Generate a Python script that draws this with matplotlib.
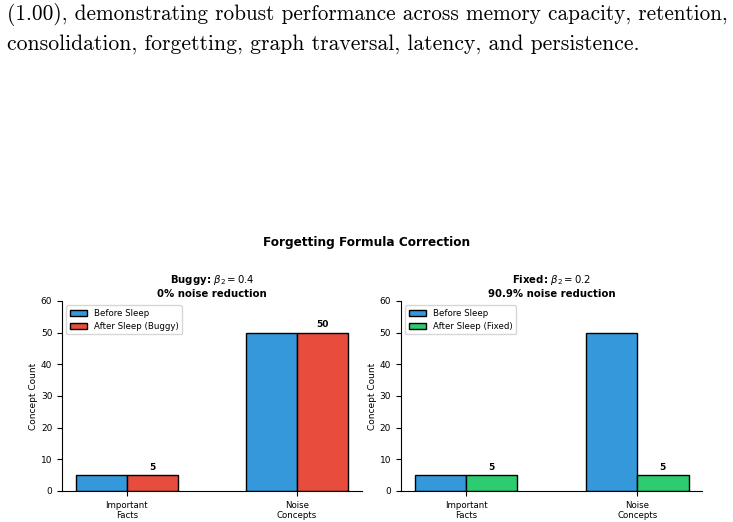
import matplotlib.pyplot as plt
import numpy as np

categories = ['Important\nFacts', 'Noise\nConcepts']
before_sleep = [5, 50]
after_buggy = [5, 50]
after_fixed = [5, 5]

BLUE = '#3498db'
RED = '#e74c3c'
GREEN = '#2ecc71'

fig = plt.figure(figsize=(7.33, 5.22), dpi=100)

# page text above the figure
page_lines = [
    '(1.00), demonstrating robust performance across memory capacity, retention,',
    'consolidation, forgetting, graph traversal, latency, and persistence.',
]
fig.text(0.009, 1 - 14 / 522, page_lines[0], fontsize=15.3, family='cmr10', va='center', ha='left')
fig.text(0.009, 1 - 44 / 522, page_lines[1], fontsize=15.6, family='cmr10', va='center', ha='left')

fig.text(0.5, 1 - 243 / 522, 'Forgetting Formula Correction', fontsize=8.7, fontweight='bold',
         ha='center', va='center')

ax1 = fig.add_axes([0.0846, 0.0594, 0.409, 0.364])
ax2 = fig.add_axes([0.547, 0.0594, 0.411, 0.364])

x = np.arange(len(categories))
w = 0.3

panels = [
    (ax1, after_buggy, RED, 'After Sleep (Buggy)', 'Buggy: $\\beta_2 = 0.4$\n0% noise reduction'),
    (ax2, after_fixed, GREEN, 'After Sleep (Fixed)', 'Fixed: $\\beta_2 = 0.2$\n90.9% noise reduction'),
]

for ax, after, color, label, title in panels:
    ax.bar(x - w / 2, before_sleep, w, color=BLUE, edgecolor='black', linewidth=1, label='Before Sleep')
    bars = ax.bar(x + w / 2, after, w, color=color, edgecolor='black', linewidth=1, label=label)
    for b, v in zip(bars, after):
        ax.text(b.get_x() + b.get_width() / 2, v + 1, str(v), ha='center', va='bottom',
                fontsize=6.5, fontweight='bold')
    ax.set_ylim(0, 60)
    ax.set_xticks(x)
    ax.set_xticklabels(categories, fontsize=6.2)
    ax.tick_params(axis='y', labelsize=6.5)
    ax.set_ylabel('Concept Count', fontsize=6.5, labelpad=2)
    ax.set_title(title, fontsize=7.3, fontweight='bold', pad=3)
    ax.legend(loc='upper left', fontsize=6.2)
    ax.spines['top'].set_visible(False)
    ax.spines['right'].set_visible(False)

fig.savefig('out.png', dpi=100, facecolor='white')
